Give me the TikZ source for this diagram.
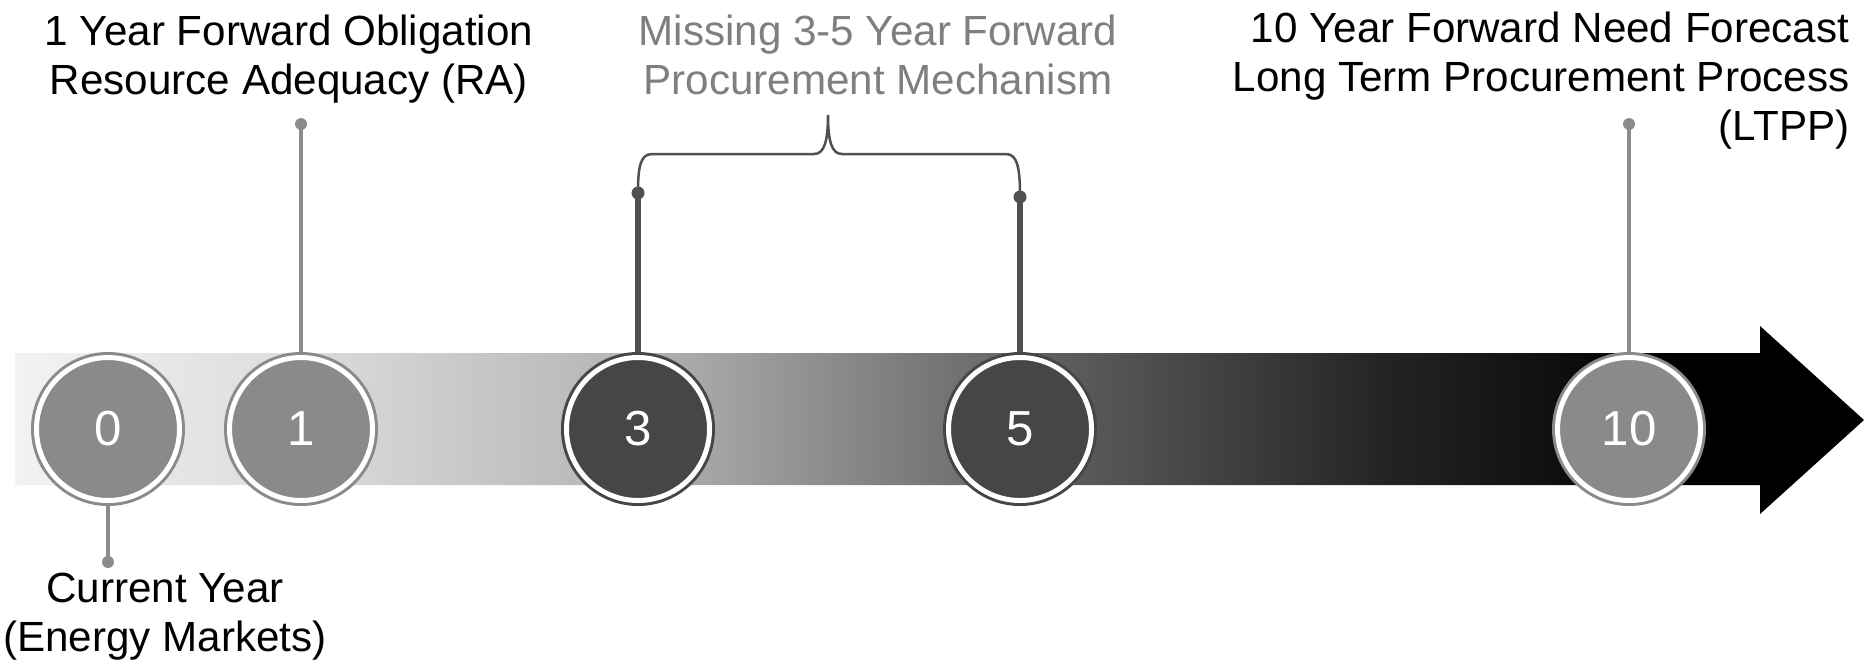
\documentclass[tikz,border=0pt]{standalone}
\usepackage{fontspec}
\setmainfont{Liberation Sans}
\usepackage{xcolor}
\usetikzlibrary{positioning, calc}
\definecolor{ballgray}{HTML}{8A8A8A}
\definecolor{balldark}{HTML}{464646}
\definecolor{pingray}{HTML}{8C8C8C}
\definecolor{pindark}{HTML}{505050}
\definecolor{missgray}{HTML}{7F7F7F}
\pgfdeclarehorizontalshading{arrowfade}{100bp}{color(0bp)=(black!5); color(25bp)=(black!5); color(33bp)=(black!14); color(42bp)=(black!30); color(52bp)=(black!60); color(62bp)=(black!86); color(70bp)=(black); color(100bp)=(black)}
\tikzset{%
    % Specifications for style of nodes:
    base/.style = {font=\fontsize{12}{14}\selectfont, inner sep=0pt},
    year/.style = {
        base, circle, minimum size=14.3mm, outer sep=0.55mm,
        line width=0.3mm, double=white, double distance=0.5mm,
        text=white, font=\fontsize{14}{16}\selectfont
    },
    yearlight/.style = {year, draw=ballgray, fill=ballgray},
    yeardark/.style = {year, draw=balldark, fill=balldark},
    note/.style = {base, align=center},
    thinpin/.style = {draw=pingray, line width=0.45mm},
    thickpin/.style = {draw=pindark, line width=0.65mm},
    brace/.style = {draw=pindark, line width=0.25mm}
}
\begin{document}
\begin{tikzpicture}[x=0.1mm, y=-0.1mm]
    \useasboundingbox (0,0) rectangle (1864,666);
    % timeline arrow
    \shade[shading=arrowfade] (15,353) -- (1760,353) -- (1760,326) -- (1864,420)
        -- (1760,514) -- (1760,485) -- (15,485) -- cycle;
    % years
    \node[yearlight] (y0) at (108,429) {0};
    \node[yearlight] (y1) at (301,429) {1};
    \node[yeardark] (y3) at (638,429) {3};
    \node[yeardark] (y5) at (1020,429) {5};
    \node[yearlight] (y10) at (1629,429) {10};
    % pin heads
    \coordinate (d0) at (108,562);
    \coordinate (d1) at (301,124);
    \coordinate (d3) at (638,193);
    \coordinate (d5) at (1020,197);
    \coordinate (d10) at (1629,124);
    \draw[thinpin] (y0.south) -- (d0);
    \draw[thinpin] (y1.north) -- (d1);
    \draw[thickpin] (y3.north) -- (d3);
    \draw[thickpin] (y5.north) -- (d5);
    \draw[thinpin] (y10.north) -- (d10);
    \foreach \d in {d0,d1,d10} \fill[pingray] (\d) circle (0.6mm);
    \foreach \d in {d3,d5} \fill[pindark] (\d) circle (0.65mm);
    % brace over 3-5
    \draw[brace] (d3) .. controls (638,168) and (640,154) .. (652,154) -- (814,154)
        .. controls (824,154) and (828,142) .. (828,115)
        .. controls (828,142) and (832,154) .. (842,154) -- (1006,154)
        .. controls (1018,154) and (1020,170) .. (d5);
    % labels
    \node[note, anchor=north] (ra) at (289,14) {1 Year Forward Obligation\\Resource Adequacy (RA)};
    \node[note, anchor=north, text=missgray] (miss) at (878,14) {Missing 3-5 Year Forward\\Procurement Mechanism};
    \node[note, anchor=north east, align=right] (ltpp) at (1850,11) {10 Year Forward Need Forecast\\Long Term Procurement Process\\(LTPP)};
    \node[note, anchor=north] (cur) at (165,572) {Current Year\\(Energy Markets)};
\end{tikzpicture}
\end{document}
